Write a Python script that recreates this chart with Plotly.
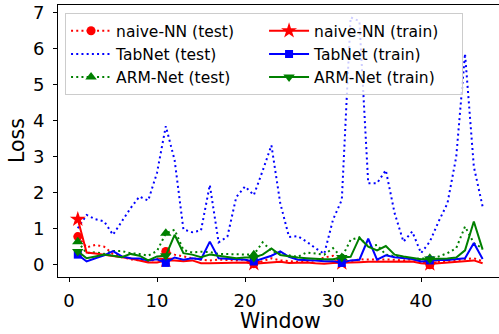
import plotly.graph_objects as go

windows = list(range(1, 48))

naive_test = [0.78, 0.48, 0.55, 0.50, 0.30, 0.22, 0.15, 0.12, 0.10, 0.15,
              0.37, 0.28, 0.22, 0.18, 0.14, 0.12, 0.14, 0.14, 0.12, 0.15,
              0.03, 0.10, 0.18, 0.12, 0.10, 0.08, 0.10, 0.12, 0.20, 0.25,
              0.12, 0.10, 0.15, 0.14, 0.14, 0.15, 0.14, 0.12, 0.15, 0.12,
              0.00, 0.08, 0.10, 0.12, 0.15, 0.18, 0.10]
tabnet_test = [1.01, 1.38, 1.26, 1.20, 0.83, 1.20, 1.57, 1.89, 1.78, 2.55,
               3.84, 2.90, 0.98, 0.90, 0.95, 2.21, 0.62, 0.78, 1.87, 2.17,
               1.93, 2.60, 3.31, 1.71, 0.77, 0.79, 0.64, 0.46, 0.30, 1.25,
               1.80, 6.86, 6.75, 2.26, 2.26, 2.62, 1.43, 0.64, 0.92, 0.32,
               0.64, 1.20, 1.70, 2.99, 5.85, 2.72, 1.61]
arm_test = [0.64, 0.32, 0.35, 0.30, 0.38, 0.38, 0.32, 0.30, 0.25, 0.38,
            0.87, 0.97, 0.41, 0.34, 0.36, 0.35, 0.30, 0.30, 0.30, 0.30,
            0.28, 0.62, 0.39, 0.30, 0.25, 0.22, 0.34, 0.30, 0.28, 0.46,
            0.20, 0.69, 0.76, 0.50, 0.55, 0.28, 0.23, 0.20, 0.16, 0.16,
            0.18, 0.23, 0.32, 0.46, 1.06, 0.60, 0.45]
naive_train = [1.26, 0.34, 0.31, 0.28, 0.25, 0.20, 0.17, 0.12, 0.06, 0.06,
               0.12, 0.12, 0.10, 0.12, 0.04, 0.04, 0.05, 0.05, 0.06, 0.06,
               0.03, 0.05, 0.08, 0.08, 0.05, 0.06, 0.06, 0.04, 0.03, 0.05,
               0.05, 0.06, 0.07, 0.08, 0.08, 0.08, 0.10, 0.08, 0.09, 0.04,
               0.02, 0.04, 0.06, 0.08, 0.10, 0.12, 0.04]
tabnet_train = [0.28, 0.09, 0.18, 0.26, 0.38, 0.23, 0.18, 0.17, 0.12, 0.15,
                0.05, 0.20, 0.14, 0.18, 0.15, 0.64, 0.18, 0.16, 0.15, 0.14,
                0.09, 0.18, 0.25, 0.37, 0.22, 0.14, 0.14, 0.12, 0.10, 0.10,
                0.05, 0.12, 0.14, 0.72, 0.14, 0.26, 0.21, 0.18, 0.16, 0.09,
                0.12, 0.13, 0.13, 0.15, 0.18, 0.60, 0.16]
arm_train = [0.37, 0.18, 0.23, 0.28, 0.25, 0.21, 0.30, 0.25, 0.12, 0.23,
             0.25, 0.83, 0.32, 0.28, 0.21, 0.28, 0.25, 0.21, 0.18, 0.20,
             0.20, 0.28, 0.45, 0.27, 0.23, 0.20, 0.18, 0.16, 0.15, 0.15,
             0.20, 0.22, 0.75, 0.50, 0.40, 0.52, 0.28, 0.23, 0.18, 0.15,
             0.16, 0.16, 0.17, 0.20, 0.40, 1.20, 0.42]

x_ticks = [0, 10, 20, 30, 40]
y_ticks = [0, 1, 2, 3, 4, 5, 6, 7]

DOT = "2px,3.2px"
series = [
    # name, values, color, dash, symbol, marker size, legend rank
    ("naive-NN (test)", naive_test, "#ff0000", DOT, "circle", 9, 1),
    ("TabNet (test)", tabnet_test, "#0000ff", DOT, None, 0, 3),
    ("ARM-Net (test)", arm_test, "#008000", DOT, "triangle-up", 10, 5),
    ("naive-NN (train)", naive_train, "#ff0000", "solid", "star", 12, 2),
    ("TabNet (train)", tabnet_train, "#0000ff", "solid", "square", 8, 4),
    ("ARM-Net (train)", arm_train, "#008000", "solid", "triangle-down", 10, 6),
]

fig = go.Figure()
for name, vals, color, dash, sym, msize, rank in series:
    fig.add_trace(go.Scatter(x=windows, y=vals, mode="lines",
                             line=dict(color=color, width=2, dash=dash),
                             showlegend=False, hoverinfo="skip"))
    if sym is not None:
        fig.add_trace(go.Scatter(x=windows[::10], y=vals[::10], mode="markers",
                                 marker=dict(color=color, symbol=sym, size=msize,
                                             line=dict(width=0)),
                                 showlegend=False, hoverinfo="skip"))
    fig.add_trace(go.Scatter(x=[None], y=[None],
                             mode="lines+markers" if sym else "lines",
                             name=name, legendrank=rank,
                             line=dict(color=color, width=2, dash=dash),
                             marker=dict(color=color, symbol=sym or "circle",
                                         size=msize if sym else 1,
                                         line=dict(width=0))))

PLOT_TOP, PLOT_BOTTOM, PLOT_LEFT = 5, 277, 58
plot_h = PLOT_BOTTOM - PLOT_TOP
plot_w = 499 - PLOT_LEFT

fig.update_layout(
    width=499, height=334,
    margin=dict(l=PLOT_LEFT, r=0, t=PLOT_TOP, b=334 - PLOT_BOTTOM),
    paper_bgcolor="white", plot_bgcolor="white",
    font=dict(family="DejaVu Sans", size=18, color="black"),
    showlegend=True,
    legend=dict(
        orientation="h", x=0.016, y=0.97, xanchor="left", yanchor="top",
        entrywidth=143, entrywidthmode="pixels",
        bgcolor="rgba(255,255,255,0.8)", bordercolor="#cccccc", borderwidth=1,
        font=dict(family="DejaVu Sans", size=15.5, color="black"),
        traceorder="normal", itemwidth=40,
    ),
    xaxis=dict(
        range=[-1.25, 48.86], tickvals=x_ticks, ticktext=[str(v) for v in x_ticks],
        showgrid=False, zeroline=False, showline=True, linecolor="black",
        linewidth=1, mirror=True, ticks="outside", ticklen=4, tickcolor="black",
        tickfont=dict(size=18), ticklabelstandoff=3, automargin=False,
    ),
    yaxis=dict(
        range=[-0.34, 7.2], tickvals=y_ticks, ticktext=[str(v) for v in y_ticks],
        showgrid=False, zeroline=False, showline=True, linecolor="black",
        linewidth=1, mirror=False, ticks="outside", ticklen=4, tickcolor="black",
        tickfont=dict(size=18), ticklabelstandoff=5, automargin=False,
    ),
    annotations=[
        dict(text="Window", xref="paper", yref="paper",
             x=(280 - PLOT_LEFT) / plot_w, y=(PLOT_BOTTOM - 320.5) / plot_h,
             xanchor="center", yanchor="middle", showarrow=False,
             font=dict(size=20.5)),
        dict(text="Loss", xref="paper", yref="paper",
             x=(17 - PLOT_LEFT) / plot_w, y=0.5, textangle=-90,
             xanchor="center", yanchor="middle", showarrow=False,
             font=dict(size=20.5)),
    ],
)

fig.write_html("out.html", config={"displayModeBar": False},
               post_script="document.body.style.margin='0';document.body.style.overflow='hidden';")
